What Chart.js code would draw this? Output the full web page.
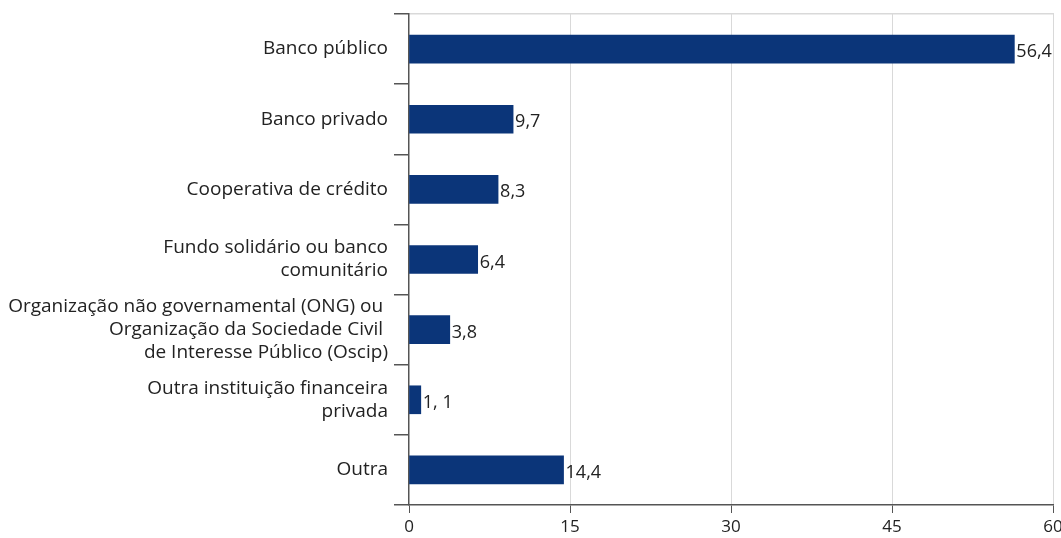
<!DOCTYPE html>
<html lang="pt">
<head>
  <meta charset="UTF-8">
  <title>Instituição financeira</title>
  <script src="https://cdn.jsdelivr.net/npm/chart.js@4.4.0/dist/chart.umd.min.js"></script>
  <style>
    html, body { margin: 0; padding: 0; background: #ffffff; }
    .chart-container { width: 1061px; height: 538px; position: relative; }
  </style>
</head>
<body>
  <div class="chart-container">
    <canvas id="bar-chart"></canvas>
  </div>

  <script>
    // Categorias (rótulos em várias linhas)
    const categories = [
      ['Banco público'],
      ['Banco privado'],
      ['Cooperativa de crédito'],
      ['Fundo solidário ou banco', 'comunitário'],
      ['Organização não governamental (ONG) ou ', 'Organização da Sociedade Civil ', 'de Interesse Público (Oscip)'],
      ['Outra instituição financeira', 'privada'],
      ['Outra']
    ];
    const values = [56.4, 9.7, 8.3, 6.4, 3.8, 1.1, 14.4];
    const valueLabels = ['56,4', '9,7', '8,3', '6,4', '3,8', '1, 1', '14,4'];
    const xTicks = [0, 15, 30, 45, 60];

    const fontFamily = "'Open Sans', 'Noto Sans', sans-serif";

    // Rótulos de valor no fim de cada barra
    const valueLabelPlugin = {
      id: 'valueLabels',
      afterDatasetsDraw(chart) {
        const ctx = chart.ctx;
        const meta = chart.getDatasetMeta(0);
        ctx.save();
        ctx.fillStyle = '#222222';
        ctx.font = '18px ' + fontFamily;
        ctx.textAlign = 'left';
        ctx.textBaseline = 'middle';
        meta.data.forEach((bar, i) => {
          ctx.fillText(valueLabels[i], bar.x + 2, bar.y + 3);
        });
        ctx.restore();
      }
    };

    const ctx = document.getElementById('bar-chart').getContext('2d');
    new Chart(ctx, {
      type: 'bar',
      data: {
        labels: categories,
        datasets: [{
          data: values,
          backgroundColor: '#0b3579',
          borderWidth: 0,
          barThickness: 28
        }]
      },
      options: {
        indexAxis: 'y',
        responsive: true,
        maintainAspectRatio: false,
        animation: false,
        layout: { padding: { top: 14, right: 8, left: 0, bottom: 0 } },
        plugins: {
          legend: { display: false },
          tooltip: { enabled: false }
        },
        scales: {
          x: {
            min: 0,
            max: 60,
            afterBuildTicks: (scale) => { scale.ticks = xTicks.map(v => ({ value: v })); },
            afterFit: (scale) => { scale.height = 33; scale.paddingLeft = 0; scale.paddingRight = 0; },
            grid: {
              color: (c) => (c.tick && c.tick.value === 0) ? 'transparent' : '#d9d9d9',
              tickColor: '#555555',
              tickLength: 8,
              lineWidth: 1
            },
            border: { color: '#555555', width: 1.5 },
            ticks: {
              color: '#222222',
              font: { family: fontFamily, size: 17 },
              padding: 4
            }
          },
          // eixo superior apenas para a linha de moldura cinza
          xTop: {
            position: 'top',
            min: 0,
            max: 60,
            afterFit: (scale) => { scale.height = 0; scale.paddingLeft = 0; scale.paddingRight = 0; },
            grid: { display: false },
            ticks: { display: false },
            border: { display: true, color: '#d9d9d9', width: 1.5 }
          },
          y: {
            afterFit: (scale) => { scale.width = 409; scale.paddingTop = 0; scale.paddingBottom = 0; },
            grid: {
              offset: true,
              drawOnChartArea: false,
              tickColor: '#555555',
              tickLength: 15,
              lineWidth: 1.5
            },
            border: { color: '#555555', width: 1.5 },
            ticks: {
              autoSkip: false,
              color: '#222222',
              font: { family: fontFamily, size: 19, lineHeight: 1.21 },
              padding: 6
            }
          }
        }
      },
      plugins: [valueLabelPlugin]
    });
  </script>
</body>
</html>
